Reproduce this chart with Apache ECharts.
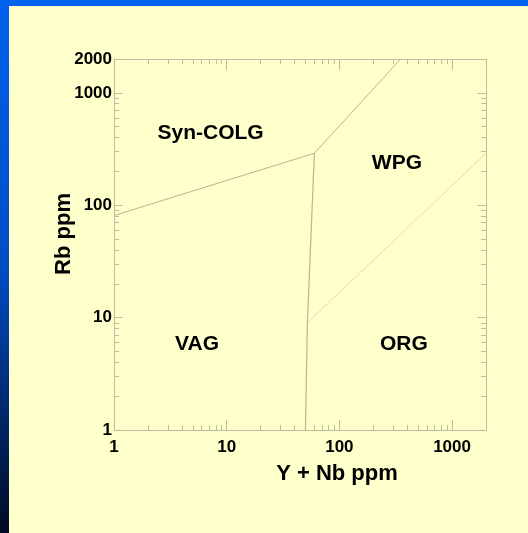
<!DOCTYPE html>
<html><head><meta charset="utf-8">
<script src="https://cdn.jsdelivr.net/npm/echarts@6/dist/echarts.min.js"></script>
<style>html,body{margin:0;padding:0;background:#ffffcc}#c{width:528px;height:533px}</style>
</head><body><div id="c"></div>
<script>
// Tick values
const xLabelValues = [1, 10, 100, 1000];
const yLabelValues = [1, 10, 100, 1000, 2000];
const majorTicks = [1, 10, 100, 1000];
const minorTicks = [2, 3, 4, 5, 6, 7, 8, 9, 20, 30, 40, 50, 60, 70, 80, 90, 200, 300, 400, 500, 600, 700, 800, 900];

// Field boundaries (Y+Nb, Rb)
const synColgVagX = [1, 60];
const synColgVagY = [81, 290];
const synColgWpgX = [60, 350];
const synColgWpgY = [290, 2000];
const vagOrgX = [60, 52, 50];
const vagOrgY = [290, 9, 1];
const wpgOrgX = [52, 2000];
const wpgOrgY = [9, 290];

// Field labels
const fieldNames = ['Syn-COLG', 'WPG', 'VAG', 'ORG'];
const fieldX = [7.2, 324, 5.45, 374];
const fieldY = [441, 236, 5.8, 5.8];

const FONT = "'Liberation Sans', Arial, sans-serif";
const axisColor = '#bdbd9f';
const lineColor = '#b5b59a';

function pairs(xs, ys) { return xs.map((x, i) => [x, ys[i]]); }

function baseAxis(extra) {
  return Object.assign({
    type: 'log', logBase: 10, min: 1, max: 2000, gridIndex: 0,
    splitLine: { show: false },
    axisLine: { show: false, onZero: false },
    axisLabel: { show: false },
    axisTick: { show: false }
  }, extra);
}
function tickDef(vals, len) {
  return { show: true, inside: true, length: len, customValues: vals, lineStyle: { color: axisColor, width: 1 } };
}
const lineAxis = { show: true, onZero: false, lineStyle: { color: axisColor, width: 1 } };
const labelStyle = { color: '#000', fontFamily: FONT, fontWeight: 'bold', fontSize: 17 };

const chart = echarts.init(document.getElementById('c'), null, { renderer: 'canvas' });
chart.setOption({
  backgroundColor: '#ffffcc',
  animation: false,
  graphic: [
    { type: 'rect', left: 0, top: 0, shape: { width: 528, height: 6 }, style: { fill: '#0062ee' }, silent: true },
    { type: 'rect', left: 0, top: 0, shape: { width: 9, height: 533 }, silent: true,
      style: { fill: new echarts.graphic.LinearGradient(0, 0, 0, 1, [
        { offset: 0, color: '#0062ee' }, { offset: 0.5, color: '#004cc4' }, { offset: 1, color: '#000a22' }]) } }
  ],
  grid: { left: 114, top: 59, width: 372, height: 371, containLabel: false },
  xAxis: [
    baseAxis({ position: 'bottom', axisLine: lineAxis, axisTick: tickDef(majorTicks, 10),
      axisLabel: Object.assign({ show: true, customValues: xLabelValues, margin: 9, formatter: v => String(Math.round(v)) }, labelStyle),
      name: 'Y + Nb ppm', nameLocation: 'middle', nameGap: 33, nameMoveOverlap: false,
      nameTextStyle: { color: '#000', fontFamily: FONT, fontWeight: 'bold', fontSize: 22, padding: [0, 0, 0, 74] } }),
    baseAxis({ position: 'bottom', axisTick: tickDef(minorTicks, 5) }),
    baseAxis({ position: 'top', axisLine: lineAxis, axisTick: tickDef(majorTicks, 11) }),
    baseAxis({ position: 'top', axisTick: tickDef(minorTicks, 5) })
  ],
  yAxis: [
    baseAxis({ position: 'left', axisLine: lineAxis, axisTick: tickDef(majorTicks, 9),
      axisLabel: Object.assign({ show: true, customValues: yLabelValues, margin: 2, formatter: v => String(Math.round(v)) }, labelStyle),
      name: 'Rb ppm', nameLocation: 'middle', nameGap: 39, nameMoveOverlap: false,
      nameTextStyle: { color: '#000', fontFamily: FONT, fontWeight: 'bold', fontSize: 22, padding: [0, 0, 0, 21] } }),
    baseAxis({ position: 'left', axisTick: tickDef(minorTicks, 5) }),
    baseAxis({ position: 'right', axisLine: lineAxis, axisTick: tickDef(majorTicks, 9) }),
    baseAxis({ position: 'right', axisTick: tickDef(minorTicks, 5) })
  ],
  series: [
    { type: 'line', data: pairs(synColgVagX, synColgVagY), showSymbol: false, lineStyle: { color: lineColor, width: 1 }, silent: true },
    { type: 'line', data: pairs(synColgWpgX, synColgWpgY), showSymbol: false, lineStyle: { color: lineColor, width: 1 }, silent: true },
    { type: 'line', data: pairs(vagOrgX, vagOrgY), showSymbol: false, lineStyle: { color: lineColor, width: 1.2 }, silent: true },
    { type: 'line', data: pairs(wpgOrgX, wpgOrgY), showSymbol: false, lineStyle: { color: '#d6d6b2', width: 0.8 }, silent: true },
    { type: 'scatter', symbolSize: 0, silent: true, itemStyle: { opacity: 1 },
      data: fieldNames.map((n, i) => ({ name: n, value: [fieldX[i], fieldY[i]] })),
      label: { show: true, position: 'inside', formatter: p => p.name, color: '#000', opacity: 1, fontFamily: FONT, fontWeight: 'bold', fontSize: 21 } }
  ]
});
</script></body></html>
